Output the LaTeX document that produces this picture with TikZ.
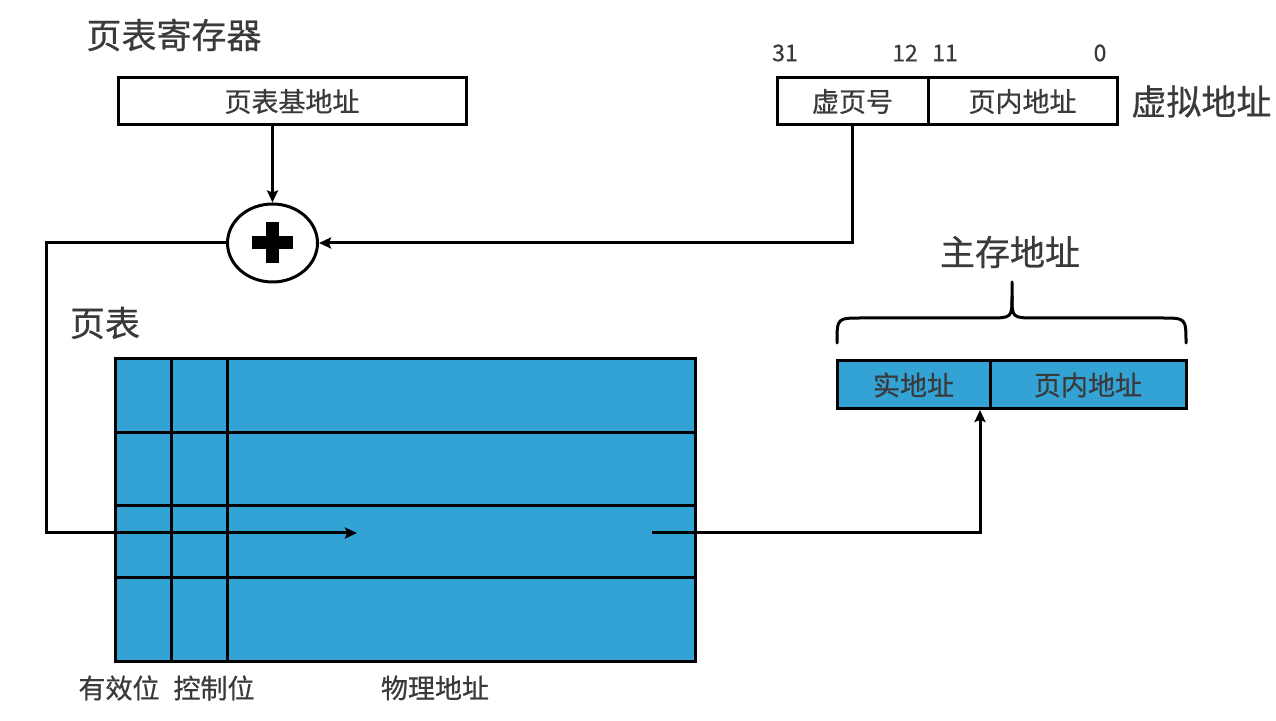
\documentclass[tikz,border=0pt]{standalone}
\usepackage{fontspec}
\setmainfont{Noto Sans CJK SC}[FakeBold=0.6]
\usetikzlibrary{arrows.meta, positioning, shapes.geometric}
\definecolor{tableblue}{HTML}{33A3D6}
\definecolor{labelgray}{HTML}{3A3A3A}

\begin{document}
\begin{tikzpicture}[x=0.5pt, y=-0.5pt,
    box/.style={draw, line width=1.5pt, inner sep=0pt, outer sep=0pt, minimum height=23.5pt, font=\fontsize{13.5}{16}\selectfont, text=labelgray},
    title/.style={inner sep=0pt, font=\fontsize{17.5}{20}\selectfont, text=labelgray},
    small/.style={inner sep=0pt, font=\fontsize{13.5}{16}\selectfont, text=labelgray},
    bitnum/.style={inner sep=0pt, font=\fontsize{11.5}{14}\selectfont, text=labelgray},
    arrow/.style={-{Stealth[length=6pt, width=5.5pt, inset=1pt]}, line width=1.5pt},
    line/.style={line width=1.5pt}
  ]
    \useasboundingbox (0,0) rectangle (1276,721);

    \node[title] (regtitle) at (174,35) {页表寄存器};
    \node[box, minimum width=174pt] (base) at (292,101.5) {页表基地址};

    \node[box, minimum width=75.5pt] (vpn) at (852.5,101.5) {虚页号};
    \node[box, minimum width=94.5pt, right=0pt of vpn] (offs) {页内地址};
    \node[title, right=7pt of offs] (vaddr) {虚拟地址};
    \node[bitnum] (b31) at (785,53) {31};
    \node[bitnum] (b12) at (905,53) {12};
    \node[bitnum] (b11) at (945,53) {11};
    \node[bitnum] (b0) at (1100,53) {0};

    \node[draw, ellipse, line width=1.5pt, minimum width=45pt, minimum height=39pt, inner sep=0pt] (adder) at (272.5,243) {};
    \fill ([xshift=-10.25pt, yshift=-3.25pt]adder.center) rectangle ++(20.5pt,6.5pt);
    \fill ([xshift=-3.25pt, yshift=-10.25pt]adder.center) rectangle ++(6.5pt,20.5pt);

    \node[title] (pttitle) at (105,323) {页表};
    \node[draw, fill=tableblue, line width=1.5pt, minimum width=290pt, minimum height=151.5pt, inner sep=0pt] (ptable) at (405,510.5) {};
    \foreach \y in {433,506,578}
      \draw[line] (115,\y) -- (695,\y);
    \foreach \x in {171,227}
      \draw[line] (\x,359) -- (\x,662);
    \node[small] (valid) at (119,688) {有效位};
    \node[small] (ctrl) at (214,688) {控制位};
    \node[small] (phys) at (435,688) {物理地址};

    \node[title] (mem) at (1010,252) {主存地址};
    \node[box, fill=tableblue, minimum width=76.5pt, minimum height=24pt] (real) at (913.5,385) {实地址};
    \node[box, fill=tableblue, minimum width=98pt, minimum height=24pt, right=0pt of real] (moffs) {页内地址};
    \draw[line, line cap=round] (837,343) .. controls (837,318) .. (862,318) -- (988,318) .. controls (1012,318) .. (1012,296) -- (1012,282);
    \draw[line, line cap=round] (1012,296) .. controls (1012,318) .. (1036,318) -- (1161,318) .. controls (1186,318) .. (1186,343);

    \coordinate (turn) at (46,533);
    \coordinate (rowin) at (357,533);
    \coordinate (rowout) at (652,533);
    \coordinate (memin) at (980,410);

    \draw[arrow] (adder.north |- base.south) -- (adder.north);
    \draw[arrow] (vpn.south) |- (adder.east);
    \draw[arrow] (adder.west) -| (turn) -- (rowin);
    \draw[arrow] (rowout) -| (memin);
  \end{tikzpicture}
\end{document}
